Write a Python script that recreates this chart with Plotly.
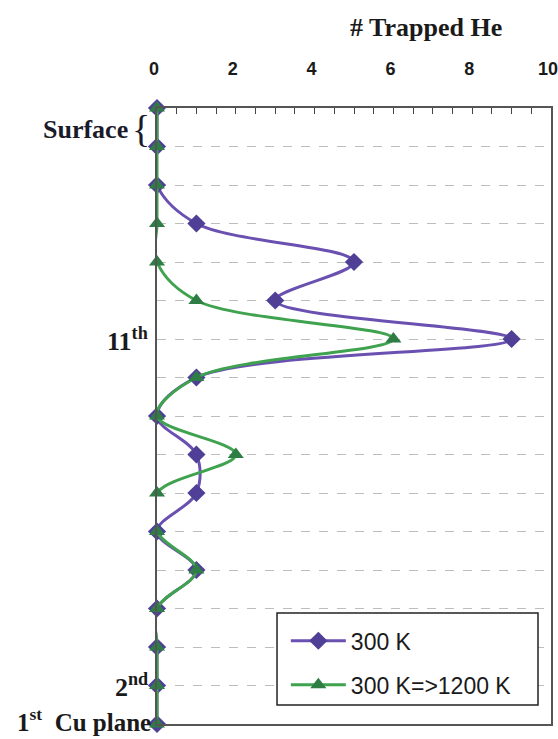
import plotly.graph_objects as go

# Cu planes, from the surface (17) down to the 1st Cu plane
planes = list(range(17, 0, -1))

# Number of trapped He per plane
he_300k = [0, 0, 0, 1, 5, 3, 9, 1, 0, 1, 1, 0, 1, 0, 0, 0, 0]
he_300k_1200k = [0, 0, 0, 0, 0, 1, 6, 1, 0, 2, 0, 0, 1, 0, 0, 0, 0]

x_ticks = [i * 0.5 for i in range(21)]
x_ticklabels = [str(int(v)) if v % 2 == 0 else "" for v in x_ticks]

serif = "Liberation Serif, Times New Roman, serif"
sans = "Liberation Sans, Arial, sans-serif"

fig = go.Figure()

fig.add_trace(go.Scatter(
    x=he_300k, y=planes, name="300 K", legendgroup="a",
    mode="lines+markers", cliponaxis=False,
    line=dict(color="#6a50b0", width=3, shape="spline", smoothing=1),
    marker=dict(symbol="diamond", size=14, color="#4f3f96"),
))
fig.add_trace(go.Scatter(
    x=he_300k_1200k, y=planes, name="300 K=>1200 K", legendgroup="b",
    mode="lines+markers", cliponaxis=False,
    line=dict(color="#3fa24f", width=3, shape="spline", smoothing=1),
    marker=dict(symbol="triangle-up", size=14, color="#2e7d45"),
))

annotations = [
    dict(text="<b># Trapped He</b>", xref="paper", yref="paper", x=0.683, y=1.13,
         xanchor="center", yanchor="middle", showarrow=False,
         font=dict(family=serif, size=26, color="#1a1a1a")),
    dict(text="<b>Surface</b>", xref="paper", yref="y", x=0, y=16.43,
         xanchor="right", yanchor="middle", xshift=-27, showarrow=False,
         font=dict(family=serif, size=26, color="#1a1a2a")),
    dict(text="{", xref="paper", yref="y", x=0, y=16.45,
         xanchor="right", yanchor="middle", xshift=-5, showarrow=False,
         font=dict(family=serif, size=38, color="#1a1a2a")),
    dict(text="<b>11<sup>th</sup></b>", xref="paper", yref="y", x=0, y=11,
         xanchor="right", yanchor="middle", xshift=-7, showarrow=False,
         font=dict(family=serif, size=26, color="#1a1a1a")),
    dict(text="<b>2<sup>nd</sup></b>", xref="paper", yref="y", x=0, y=2,
         xanchor="right", yanchor="middle", xshift=-7, showarrow=False,
         font=dict(family=serif, size=26, color="#1a1a1a")),
    dict(text="<b>1<sup>st</sup>&nbsp; Cu plane</b>", xref="paper", yref="y", x=0, y=1,
         xanchor="right", yanchor="bottom", xshift=-4, yshift=-14, showarrow=False,
         font=dict(family=serif, size=25, color="#1a1a1a")),
]

# White framed box behind the legend entries
legend_box = dict(
    type="rect", xref="paper", yref="paper",
    x0=0.3046, x1=0.967, y0=0.0308, y1=0.180,
    fillcolor="white", line=dict(color="#222222", width=1.5), layer="above",
)

fig.update_layout(
    width=558, height=739,
    margin=dict(l=157, r=7, t=108, b=15, autoexpand=False),
    paper_bgcolor="white", plot_bgcolor="white",
    showlegend=True,
    legend=dict(
        x=0.327, y=0.170, xanchor="left", yanchor="top",
        bgcolor="rgba(0,0,0,0)", borderwidth=0,
        font=dict(family=sans, size=23, color="#1a1a1a"),
        itemwidth=55, tracegroupgap=11,
    ),
    annotations=annotations,
    shapes=[legend_box],
)

fig.update_xaxes(
    side="top", range=[0, 10], automargin=False,
    tickvals=x_ticks, ticktext=x_ticklabels,
    ticks="inside", ticklen=6, tickcolor="#444444", tickwidth=1,
    tickfont=dict(family=sans, size=18, color="#1a1a1a", weight="bold"),
    ticklabelstandoff=24, ticklabelshift=-3, ticklabeloverflow="allow",
    showgrid=False, zeroline=False,
    showline=True, linecolor="#555555", linewidth=1.5, mirror=True,
)
fig.update_yaxes(
    range=[1, 17], tickvals=planes, showticklabels=False, ticks="",
    automargin=False,
    showgrid=True, gridcolor="#bdbdbd", griddash="dash", gridwidth=1,
    zeroline=False,
    showline=True, linecolor="#555555", linewidth=2, mirror=True,
)

fig.write_html("out.html")
